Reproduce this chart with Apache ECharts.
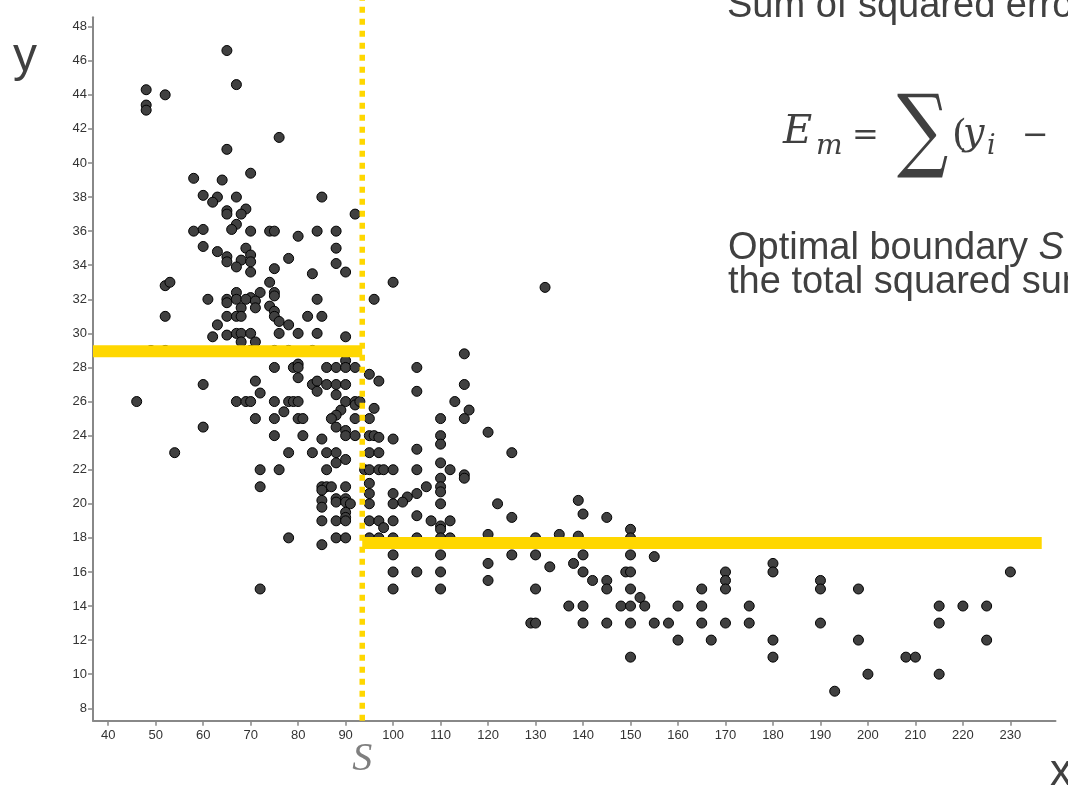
<!DOCTYPE html>
<html>
<head>
<meta charset="utf-8">
<script src="https://cdn.jsdelivr.net/npm/echarts@6/dist/echarts.min.js"></script>
<style>
  html, body { margin: 0; padding: 0; background: #ffffff; }
  #chart { width: 1068px; height: 792px; }
</style>
</head>
<body>
<div id="chart"></div>
<script>
// Axis ticks and ranges
const xTicks = [40, 50, 60, 70, 80, 90, 100, 110, 120, 130, 140, 150, 160, 170, 180, 190, 200, 210, 220, 230];
const yTicks = [8, 10, 12, 14, 16, 18, 20, 22, 24, 26, 28, 30, 32, 34, 36, 38, 40, 42, 44, 46, 48];
const xRange = [36.8, 239.5];
const yRange = [7.27, 48.55];

// Split point and the mean of each side
const boundaryS = 93.5;
const meanBelowS = 28.95;
const meanAboveS = 17.7;
const meanAboveEnd = 236.6;
const boundaryTop = 49.6;

// Cars with horsepower below S: [horsepower, mpg]
const carsBelowS = [
  [65,46.6],[67,44.6],[48,44.3],[52,44],[48,43.4],[48,43.1],[76,41.5],[65,40.8],[58,39.1],[64,39],[70,39.4],
  [60,38.1],[63,38],[62,37.7],[67,38],[85,38],[65,37.2],[65,37],[69,37.3],[68,37],[92,37],[67,36.4],[66,36.1],
  [58,36],[60,36.1],[70,36],[74,36],[75,36],[80,35.7],[84,36],[88,36],[60,35.1],[69,35],[88,35],[63,34.8],
  [65,34.5],[70,34.6],[68,34.3],[78,34.4],[65,34.2],[67,33.9],[70,34.2],[70,33.6],[75,33.8],[83,33.5],[88,34.1],
  [90,33.6],[52,32.8],[53,33],[74,33],[72,32.4],[75,32.4],[75,32.2],[67,32.4],[70,32.1],[61,32],[65,32],[67,32],
  [65,31.8],[69,32],[71,31.9],[74,31.6],[84,32],[68,31.5],[71,31.5],[75,31.3],[52,31],[65,31],[67,31],[68,31],
  [75,31],[76,30.7],[82,31],[85,31],[63,30.5],[62,29.8],[65,29.9],[67,30],[68,30],[70,30],[68,29.5],[71,29.5],
  [76,30],[78,30.5],[80,30],[84,30],[90,29.8],[49,29],[52,29],[70,29],[75,29],[78,29],[83,29],
  [90,28.4],[75,28],[79,28],[80,28.2],[80,28],[86,28],[88,28],[90,28],[92,28],
  [80,27.4],[71,27.2],[83,27],[84,27.2],[86,27],[88,27],[90,27],[84,26.6],[88,26.4],[72,26.5],[60,27],
  [46,26],[67,26],[69,26],[70,26],[75,26],[78,26],[79,26],[80,26],[90,26],[92,26],[92,25.8],[93,26],
  [77,25.4],[89,25.5],[88,25.2],[87,25],[71,25],[75,25],[80,25],[81,25],[92,25],
  [60,24.5],[88,24.5],[90,24.3],[90,24],[75,24],[81,24],[85,23.8],[92,24],
  [54,23],[78,23],[83,23],[86,23],[88,23],[90,22.6],[88,22.4],[72,22],[76,22],[86,22],
  [72,21],[85,21],[86,21],[87,21],[90,21],[85,20.8],[85,20.2],[85,19.8],[88,20.3],[88,20.1],[90,20.3],[90,20.1],[91,20],
  [90,19.5],[90,19.2],[85,19],[88,19],[90,19],[78,18],[88,18],[90,18],[85,17.6],[72,15]
];

// Cars with horsepower above S: [horsepower, mpg]
const carsAboveS = [
  [96,32],[100,33],[132,32.7],[115,28.8],[105,28],[95,27.6],[97,27.2],[105,26.6],[115,27],[113,26],[116,25.5],
  [96,25.6],[95,25],[110,25],[115,25],[95,24],[96,24],[97,23.9],[100,23.8],[110,24],[110,23.5],[120,24.2],
  [105,23.2],[125,23],[95,23],[97,23],[94,22],[95,22],[97,22],[98,22],[100,22],[105,22],[110,22.4],[112,22],
  [115,21.7],[115,21.5],[110,21.5],[107,21],[110,21],[95,21.2],[95,20.6],[100,20.6],[105,20.6],[110,20.7],
  [103,20.4],[102,20.1],[95,20],[100,20],[110,20],[122,20],[139,20.2],[140,19.4],[145,19.2],[125,19.2],
  [95,19],[97,19],[100,19],[105,19.3],[108,19],[112,19],[98,18.6],[110,18.7],[110,18.5],
  [95,18],[97,18],[100,18],[105,18],[110,18],[112,18],[120,18.2],[130,18],[135,18.2],[139,18.1],[150,18.5],[150,18],[165,17.7],
  [100,17],[110,17],[125,17],[130,17],[140,17],[150,17],[155,16.9],
  [100,16],[105,16],[110,16],[120,16.5],[120,15.5],[133,16.3],[138,16.5],[140,16],[142,15.5],[145,15.5],[145,15],[149,16],[150,16],
  [100,15],[110,15],[130,15],[150,15],[152,14.5],
  [137,14],[140,14],[148,14],[150,14],[153,14],[160,14],[165,14],[165,15],
  [129,13],[130,13],[140,13],[145,13],[150,13],[155,13],[158,13],[165,13],
  [160,12],[167,12],[150,11],
  [170,16],[170,15.5],[170,15],[170,13],[175,14],[175,13],[180,16.5],[180,16],[180,12],[180,11],
  [190,15.5],[190,15],[190,13],[193,9],[198,15],[198,12],[200,10],[208,11],[210,11],
  [215,14],[215,13],[215,10],[220,14],[225,14],[225,12],[230,16]
];

const GOLD = '#FFD700';
const INK = '#404040';
const AXIS_GREY = '#888888';
const SANS = '"Liberation Sans", Arial, sans-serif';
const SERIF = '"Liberation Serif", "DejaVu Serif", serif';
const MATH = '"DejaVu Serif", serif';

const chart = echarts.init(document.getElementById('chart'), null, { renderer: 'canvas' });

function axisCommon(ticks) {
  return {
    type: 'value',
    splitLine: { show: false },
    axisLine: { show: true, onZero: false, lineStyle: { color: AXIS_GREY, width: 2 } },
    axisTick: { show: true, inside: false, length: 5, customValues: ticks, lineStyle: { color: AXIS_GREY, width: 1.5 } },
    axisLabel: { customValues: ticks, color: '#333333', fontSize: 13, fontFamily: SANS }
  };
}

const xAxis = axisCommon(xTicks);
xAxis.min = xRange[0];
xAxis.max = xRange[1];
xAxis.axisLabel.margin = 8;

const yAxis = axisCommon(yTicks);
yAxis.min = yRange[0];
yAxis.max = yRange[1];
yAxis.axisLabel.margin = 6;

chart.setOption({
  animation: false,
  backgroundColor: '#ffffff',
  grid: { left: 93, right: 12.5, top: 17.3, bottom: 71.3, containLabel: false },
  xAxis: xAxis,
  yAxis: yAxis,
  series: [
    {
      name: 'cars',
      type: 'scatter',
      data: carsBelowS.concat(carsAboveS),
      symbol: 'circle',
      symbolSize: 10,
      itemStyle: { color: INK, borderColor: '#000000', borderWidth: 1, opacity: 1 },
      z: 2,
      silent: true
    },
    {
      name: 'mean below S',
      type: 'line',
      data: [[xRange[0], meanBelowS], [boundaryS, meanBelowS]],
      symbol: 'none',
      lineStyle: { color: GOLD, width: 12, cap: 'butt' },
      z: 3,
      silent: true
    },
    {
      name: 'mean above S',
      type: 'line',
      data: [[boundaryS, meanAboveS], [meanAboveEnd, meanAboveS]],
      symbol: 'none',
      lineStyle: { color: GOLD, width: 12, cap: 'butt' },
      z: 3,
      silent: true
    },
    {
      name: 'boundary S',
      type: 'line',
      data: [[boundaryS, yRange[0]], [boundaryS, boundaryTop]],
      symbol: 'none',
      clip: false,
      lineStyle: { color: GOLD, width: 5.5, type: [6, 6], cap: 'butt' },
      z: 4,
      silent: true
    }
  ]
});

function txt(x, y, text, font, fill, extra, transform) {
  const style = Object.assign({
    text: text,
    font: font,
    fill: fill,
    align: 'left',
    textAlign: 'left',
    verticalAlign: 'middle',
    textVerticalAlign: 'middle'
  }, extra || {});
  return Object.assign({ type: 'text', x: x, y: y, silent: true, z: 10, style: style }, transform || {});
}

const sX = chart.convertToPixel({ gridIndex: 0 }, [boundaryS, yRange[0]])[0];

chart.setOption({
  graphic: [
    // axis letters
    txt(13, 58, 'y', '48px ' + SANS, INK),
    txt(1050, 773, 'x', '44px ' + SANS, INK),
    txt(sX, 759, 'S', 'italic 40px ' + SERIF, '#7f7f7f', { align: 'center', textAlign: 'center' }),
    // explanation text
    txt(727, 7, 'Sum of squared errors', '38px ' + SANS, INK),
    {
      type: 'text', x: 728, y: 248.5, silent: true, z: 10,
      style: {
        text: 'Optimal boundary {it|S}',
        font: '38px ' + SANS,
        fill: INK,
        verticalAlign: 'middle', textVerticalAlign: 'middle',
        rich: { it: { fontStyle: 'italic', fontSize: 38, fontFamily: SANS, fill: INK, color: INK } }
      }
    },
    txt(728, 282.5, 'the total squared sum', '38px ' + SANS, INK),
    // formula E_m = Σ(y_i −
    txt(783, 133, 'E', 'italic 40px ' + MATH, INK),
    txt(816, 147, 'm', 'italic 28px ' + MATH, INK),
    txt(852, 137, '=', '32px ' + MATH, INK),
    txt(897, 136, '\u2211', '92px ' + MATH, INK, null, { scaleX: 0.78 }),
    txt(952, 136, '(', '38px ' + MATH, INK),
    txt(963, 134, 'y', 'italic 38px ' + MATH, INK),
    txt(987, 147, 'i', 'italic 27px ' + MATH, INK),
    txt(1022, 137, '\u2212', '32px ' + MATH, INK)
  ]
});
</script>
</body>
</html>
